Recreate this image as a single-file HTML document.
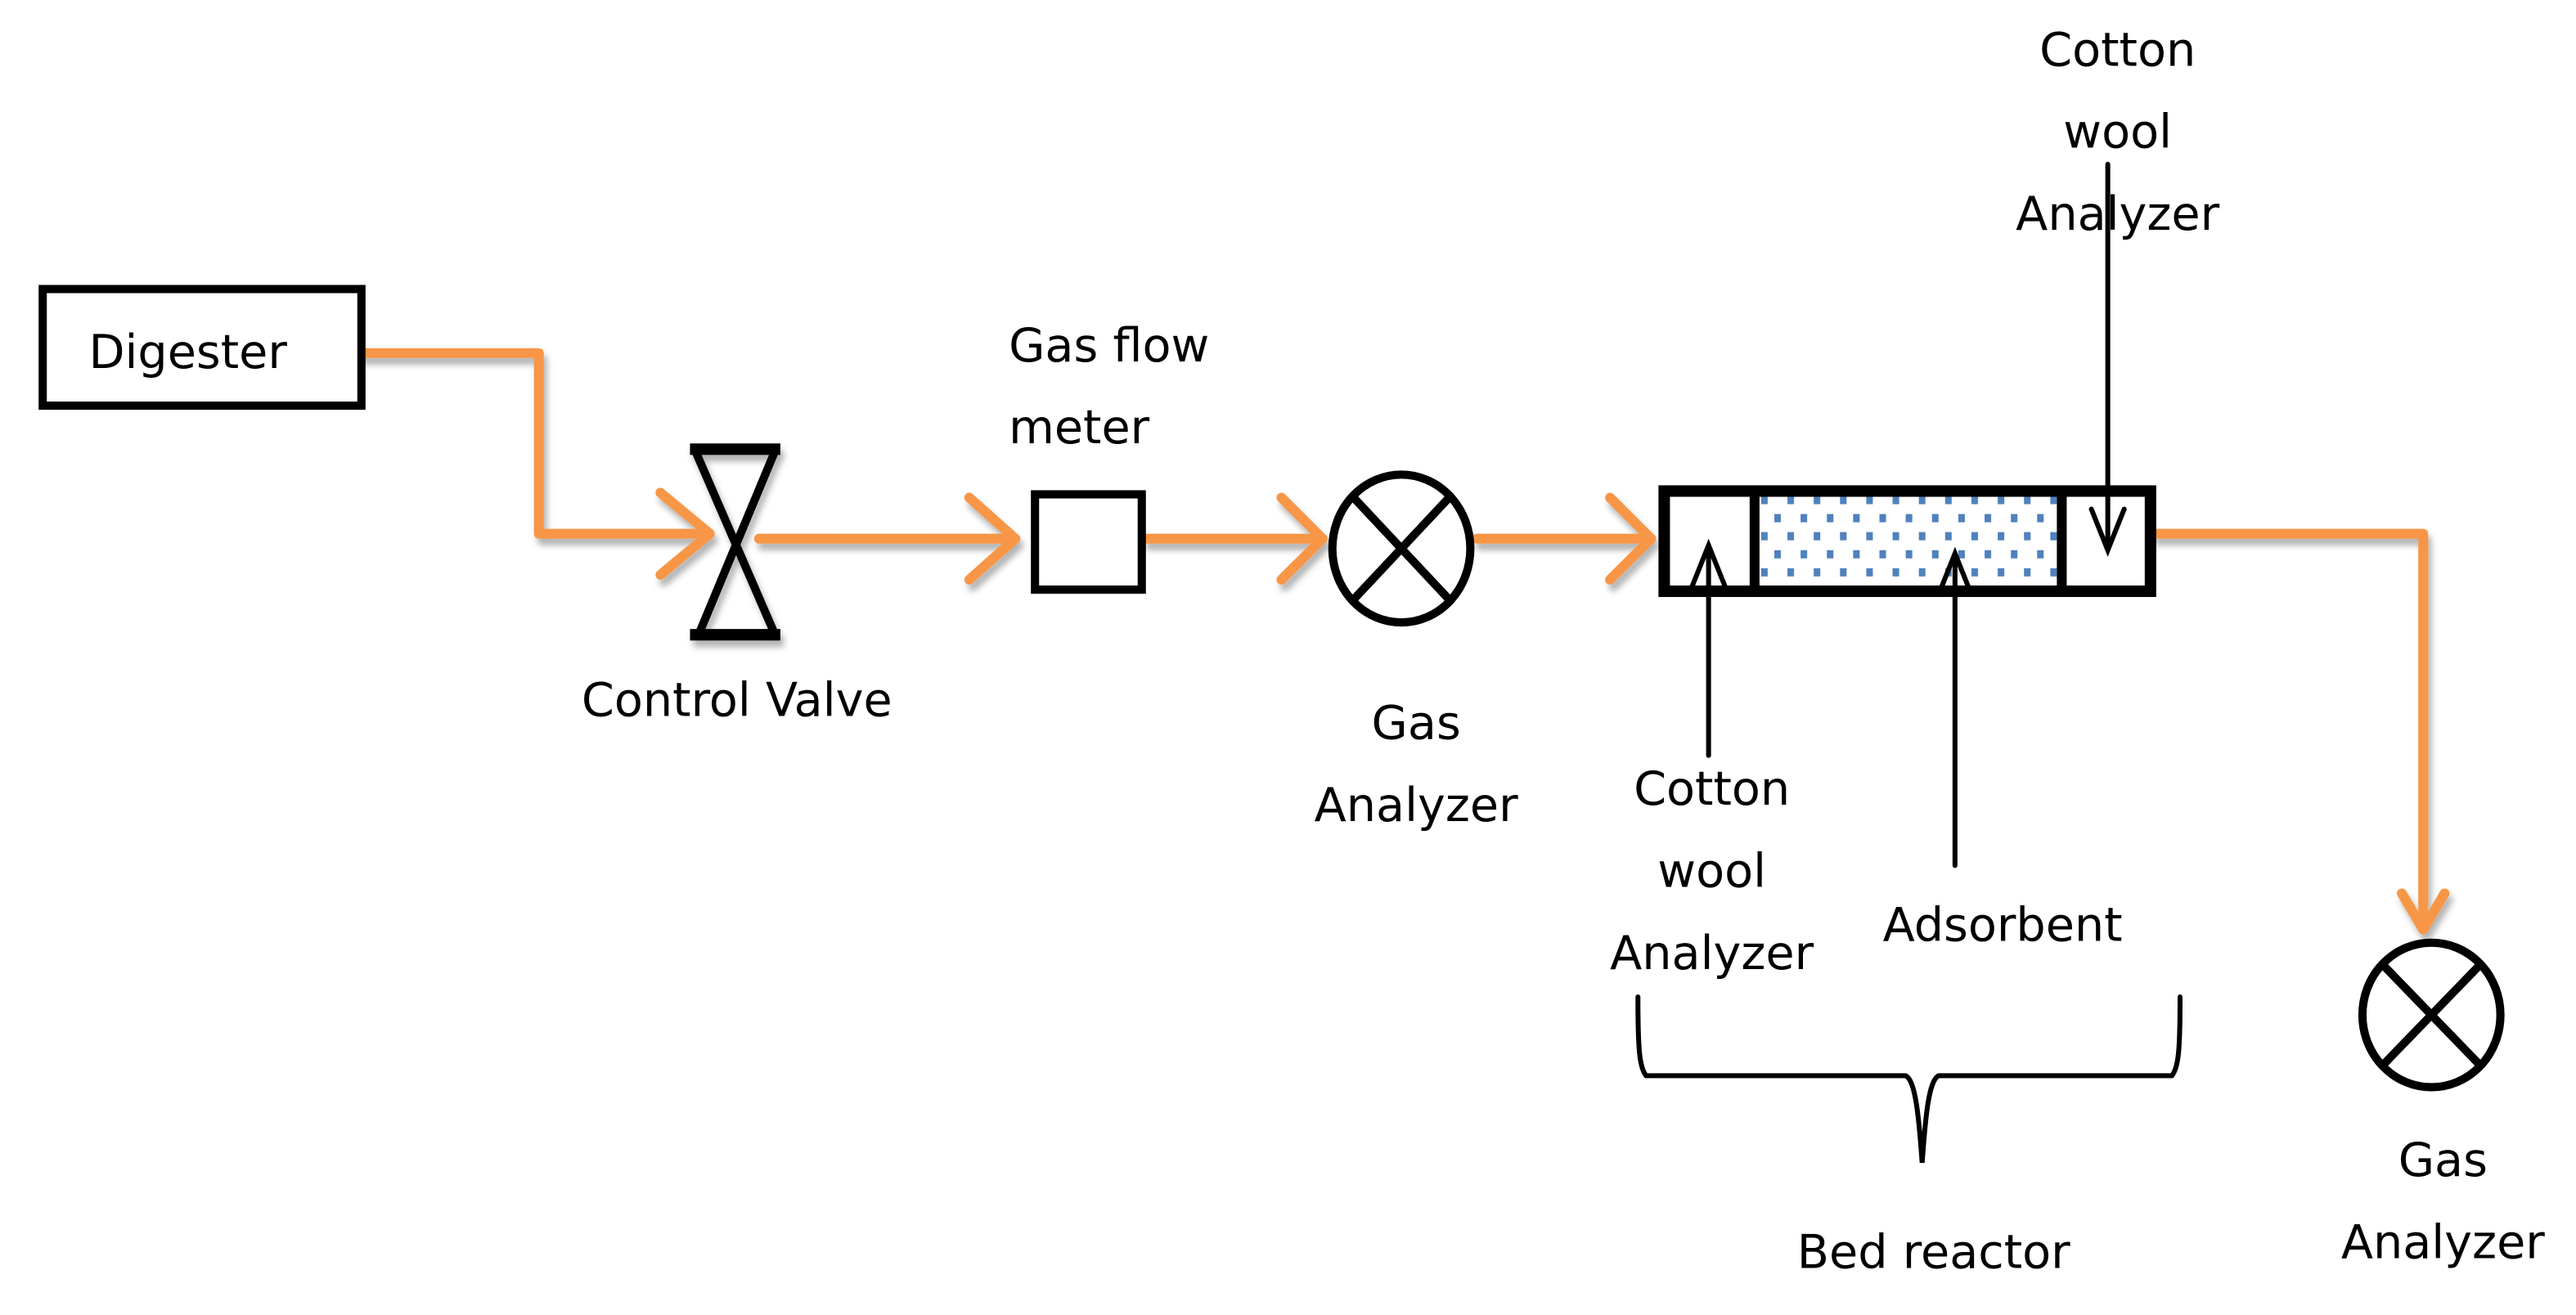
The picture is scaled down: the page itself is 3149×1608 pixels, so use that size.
<!DOCTYPE html>
<html><head><meta charset="utf-8"><style>
html,body{margin:0;padding:0;background:#fff;width:3149px;height:1608px;overflow:hidden}
svg{display:block}
text{font-family:"DejaVu Sans","Liberation Sans",sans-serif;font-size:28.5px;fill:#000}
</style></head><body>
<svg width="3149" height="1608" viewBox="0 0 1568 800.7" preserveAspectRatio="none" xmlns="http://www.w3.org/2000/svg">
<defs>
<pattern id="dots" x="1070" y="300" width="16" height="22" patternUnits="userSpaceOnUse">
<rect x="2" y="2" width="4" height="5" fill="#4F81BD"/>
<rect x="10" y="13" width="4" height="5" fill="#4F81BD"/>
</pattern>
<filter id="sh" x="-10%" y="-50%" width="120%" height="200%"><feDropShadow dx="2" dy="4" stdDeviation="2" flood-color="#000" flood-opacity="0.3"/></filter>
</defs>
<g fill="none" stroke="#F79646" stroke-width="6" stroke-linecap="round" stroke-linejoin="round" filter="url(#sh)">
<polyline points="220,215 328,215 328,325 432,325"/>
<polyline points="402,300 432,325 402,350"/>
<line x1="462" y1="328" x2="618" y2="328"/>
<polyline points="590,303 618,328 590,353"/>
<line x1="698" y1="328" x2="805" y2="328"/>
<polyline points="780,303 805,328 780,353"/>
<line x1="899" y1="328" x2="1005" y2="328"/>
<polyline points="980,303 1005,328 980,353"/>
<polyline points="1312,325 1475,325 1475,566"/>
<polyline points="1462,544 1475,566 1488,544"/>
</g>
<rect x="26" y="176" width="194" height="71" fill="#fff" stroke="#000" stroke-width="5"/>
<text x="54" y="224">Digester</text>
<g filter="url(#sh)">
<polygon points="423,274 472,274 425,387 472,387" fill="none" stroke="#000" stroke-width="5" stroke-linejoin="round"/>
<rect x="420" y="270" width="55" height="7" fill="#000"/>
<rect x="420" y="383" width="55" height="7" fill="#000"/>
</g>
<rect x="630" y="301" width="65" height="58" fill="#fff" stroke="#000" stroke-width="5"/>
<g stroke="#000" stroke-width="5" fill="#fff">
<ellipse cx="853" cy="334" rx="42" ry="45"/>
<line x1="823" y1="302" x2="883" y2="366"/>
<line x1="883" y1="302" x2="823" y2="366"/>
<ellipse cx="1480" cy="618" rx="42" ry="44"/>
<line x1="1450" y1="587" x2="1510" y2="649"/>
<line x1="1510" y1="587" x2="1450" y2="649"/>
</g>
<rect x="1068" y="300" width="186" height="58" fill="url(#dots)"/>
<rect x="1013" y="299" width="296" height="61" fill="none" stroke="#000" stroke-width="7"/>
<line x1="1068" y1="299" x2="1068" y2="360" stroke="#000" stroke-width="6"/>
<line x1="1255" y1="299" x2="1255" y2="360" stroke="#000" stroke-width="6"/>
<g stroke="#000" stroke-width="3" fill="none" stroke-linecap="round">
<line x1="1040" y1="460" x2="1040" y2="335"/>
<polyline points="1030,357 1040,332 1050,357"/>
<line x1="1190" y1="527" x2="1190" y2="340"/>
<polyline points="1180,362 1190,337 1200,362"/>
<line x1="1283" y1="100" x2="1283" y2="333"/>
<polyline points="1273,310 1283,335 1293,310"/>
<path d="M997,607 C997,640 998,650 1002,655 L1160,655 C1166,658 1168,680 1170,708 C1172,680 1174,658 1180,655 L1322,655 C1326,650 1327,640 1327,607"/>
</g>
<text x="614" y="220">Gas flow</text>
<text x="614" y="270">meter</text>
<text x="354" y="436">Control Valve</text>
<g text-anchor="middle">
<text x="862" y="450">Gas</text>
<text x="862" y="500">Analyzer</text>
<text x="1042" y="490">Cotton</text>
<text x="1042" y="540">wool</text>
<text x="1042" y="590">Analyzer</text>
<text x="1219" y="573">Adsorbent</text>
<text x="1289" y="40">Cotton</text>
<text x="1289" y="90">wool</text>
<text x="1289" y="140">Analyzer</text>
<text x="1177" y="772">Bed reactor</text>
<text x="1487" y="716">Gas</text>
<text x="1487" y="766">Analyzer</text>
</g>
</svg>
</body></html>
